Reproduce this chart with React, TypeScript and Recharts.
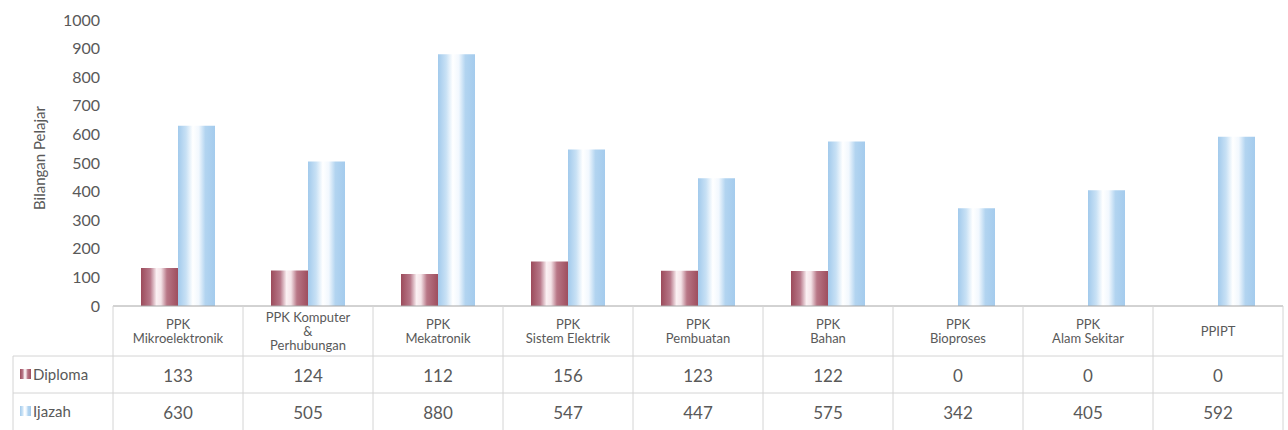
import { BarChart, Bar, XAxis, YAxis, Label } from 'recharts';

const categories = [
  'PPK\nMikroelektronik',
  'PPK Komputer\n&\nPerhubungan',
  'PPK\nMekatronik',
  'PPK\nSistem Elektrik',
  'PPK\nPembuatan',
  'PPK\nBahan',
  'PPK\nBioproses',
  'PPK\nAlam Sekitar',
  'PPIPT',
];
const diploma = [133, 124, 112, 156, 123, 122, 0, 0, 0];
const ijazah = [630, 505, 880, 547, 447, 575, 342, 405, 592];
const yTicks = [0, 100, 200, 300, 400, 500, 600, 700, 800, 900, 1000];

const data = categories.map((name, i) => ({ name, Diploma: diploma[i], Ijazah: ijazah[i] }));

const W = 1288;
const H = 430;
const LEFT = 113;
const RIGHT = 5;
const COL_W = (W - LEFT - RIGHT) / categories.length;
const TEXT = '#595959';
const GRID = '#d4d4d4';

const TableTick = (props: any) => {
  const { x, y, payload } = props;
  const i = payload.index;
  const lines = String(payload.value).split('\n');
  const lh = 14;
  const startY = y + 25 - ((lines.length - 1) * lh) / 2;
  const left = x - COL_W / 2;
  const right = x + COL_W / 2;
  return (
    <g>
      <line x1={left} y1={y} x2={left} y2={H} stroke={GRID} />
      {i === categories.length - 1 && <line x1={right} y1={y} x2={right} y2={H} stroke={GRID} />}
      <line x1={left} y1={356} x2={right} y2={356} stroke={GRID} />
      <line x1={left} y1={393} x2={right} y2={393} stroke={GRID} />
      <text textAnchor="middle" fill={TEXT} fontSize={13}>
        {lines.map((l, k) => (
          <tspan key={k} x={x} y={startY + k * lh} dominantBaseline="central">{l}</tspan>
        ))}
      </text>
      <text x={x} y={375} textAnchor="middle" dominantBaseline="central" fill={TEXT} fontSize={17}>{diploma[i]}</text>
      <text x={x} y={412} textAnchor="middle" dominantBaseline="central" fill={TEXT} fontSize={17}>{ijazah[i]}</text>
      {i === 0 && (
        <g>
          <line x1={13} y1={356} x2={left} y2={356} stroke={GRID} />
          <line x1={13} y1={393} x2={left} y2={393} stroke={GRID} />
          <line x1={13} y1={356} x2={13} y2={H} stroke={GRID} />
          <rect x={20} y={369} width={11} height={10} fill="url(#gDip)" />
          <text x={33} y={374} dominantBaseline="central" fill={TEXT} fontSize={15}>Diploma</text>
          <rect x={20} y={406} width={11} height={10} fill="url(#gIja)" />
          <text x={33} y={411} dominantBaseline="central" fill={TEXT} fontSize={15}>Ijazah</text>
        </g>
      )}
    </g>
  );
};

export default function App() {
  return (
    <div style={{ position: 'absolute', left: 0, top: 0, width: W, height: H, background: '#fff', fontFamily: 'Lato, sans-serif' }}>
      <BarChart
        width={W}
        height={H}
        data={data}
        margin={{ top: 20, right: RIGHT, left: 0, bottom: 0 }}
        barSize={37}
        barGap={0}
      >
        <defs>
          <linearGradient id="gDip" x1="0" y1="0" x2="1" y2="0">
            <stop offset="0%" stopColor="#9c4b5b" />
            <stop offset="25%" stopColor="#b8798a" />
            <stop offset="42%" stopColor="#fbf1f3" />
            <stop offset="54%" stopColor="#f4e4e8" />
            <stop offset="70%" stopColor="#b87686" />
            <stop offset="100%" stopColor="#9e4e5e" />
          </linearGradient>
          <linearGradient id="gIja" x1="0" y1="0" x2="1" y2="0">
            <stop offset="0%" stopColor="#a2caec" />
            <stop offset="22%" stopColor="#c8e1f5" />
            <stop offset="40%" stopColor="#ffffff" />
            <stop offset="56%" stopColor="#f2f8fe" />
            <stop offset="74%" stopColor="#b2d4f0" />
            <stop offset="100%" stopColor="#a4cbed" />
          </linearGradient>
        </defs>
        <XAxis
          dataKey="name"
          height={124}
          interval={0}
          tickLine={false}
          tickSize={0}
          tickMargin={0}
          axisLine={{ stroke: '#a6a6a6' }}
          tick={<TableTick />}
        />
        <YAxis
          width={LEFT}
          domain={[0, 1000]}
          ticks={yTicks}
          interval={0}
          axisLine={false}
          tickLine={false}
          tickSize={0}
          tickMargin={13}
          tick={{ fill: TEXT, fontSize: 16 }}
        >
          <Label value="Bilangan Pelajar" angle={-90} position="center" dx={-17} dy={-5} fill={TEXT} fontSize={15} />
        </YAxis>
        <Bar dataKey="Diploma" fill="url(#gDip)" isAnimationActive={false} />
        <Bar dataKey="Ijazah" fill="url(#gIja)" isAnimationActive={false} />
      </BarChart>
    </div>
  );
}
